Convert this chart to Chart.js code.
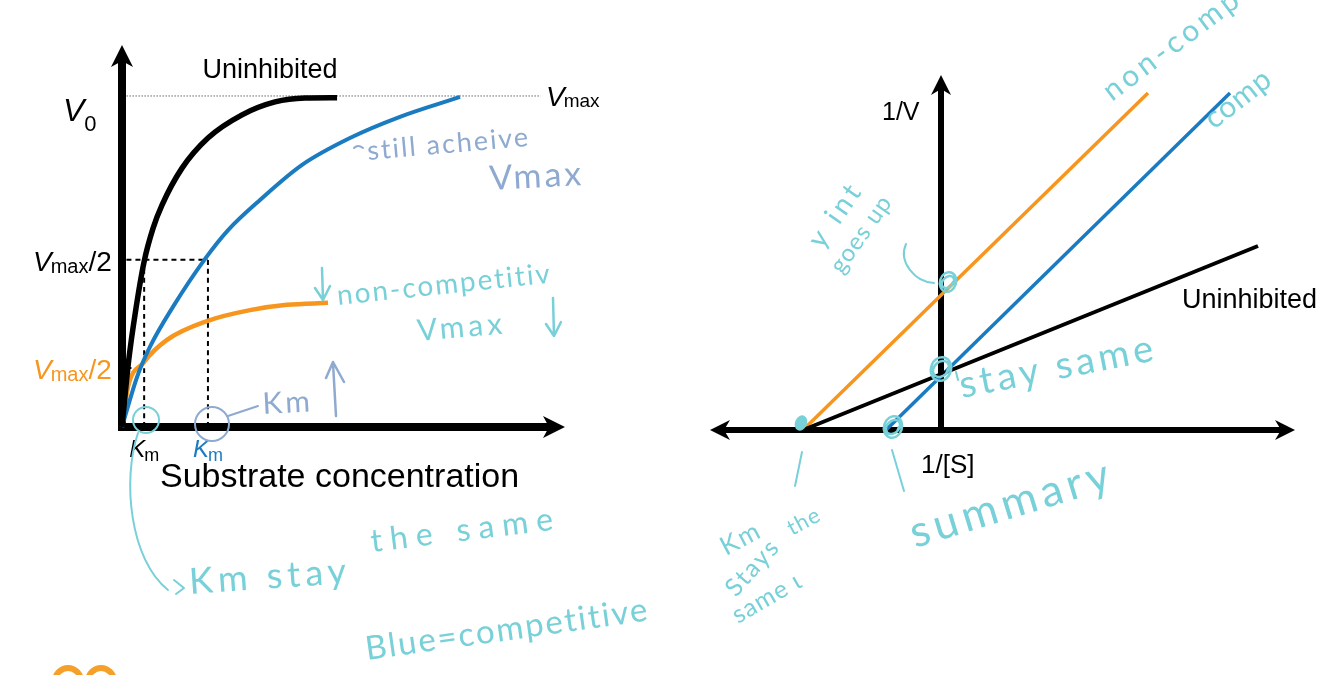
<!DOCTYPE html>
<html>
<head>
<meta charset="utf-8">
<title>Enzyme inhibition</title>
<script src="https://cdn.jsdelivr.net/npm/chart.js@4"></script>
<style>
  body { margin: 0; background: #fff; }
  .wrap { position: relative; width: 1334px; height: 675px; overflow: hidden; }
  .wrap canvas { position: absolute; left: 0; top: 0; }
</style>
</head>
<body>
<div class="wrap">
  <canvas id="mmChart" width="1334" height="675"></canvas>
  <canvas id="lbChart" width="1334" height="675"></canvas>
</div>
<script>
// ---- Michaelis-Menten plot (left) ----
const substrateBlack = [0, 0.1, 0.3, 0.6, 1.0, 1.4, 1.81, 2.71, 3.88, 5.42, 6.91, 8.26, 9.71];
const v0Black        = [0, 0.07, 0.2, 0.345, 0.5, 0.6, 0.671, 0.782, 0.873, 0.943, 0.982, 0.994, 0.995];
const substrateComp  = [0, 0.68, 1.26, 2.3, 3.75, 4.79, 6.23, 8.13, 10.29, 12.55, 15.26];
const v0Comp         = [0, 0.151, 0.242, 0.363, 0.508, 0.595, 0.686, 0.792, 0.873, 0.937, 0.997];
const substrateNonc  = [0, 0.27, 0.95, 2.03, 3.84, 5.78, 7.45, 9.3];
const v0Nonc         = [0, 0.121, 0.193, 0.263, 0.32, 0.353, 0.369, 0.375];
const vmax = 1;
const vmaxHalf = 0.505;
const vmaxHalfNonc = 0.178;
const kmBlack = 1.0;
const kmComp = 3.88;

// ---- Lineweaver-Burk plot (right) ----
const invSBlack = [-1.38, 3.17];
const invVBlack = [0, 1.84];
const invSNonc  = [-1.38, 2.07];
const invVNonc  = [0, 3.37];
const invSComp  = [-0.55, 2.89];
const invVComp  = [0, 3.37];

const BLUE = '#1b7bc0';
const ORANGE = '#f7961e';
const CYAN = '#78d0d8';
const GREYBLUE = '#8faad0';
const FONT = '"Liberation Sans", Arial, Helvetica, sans-serif';
const HAND = 'Lato, "Open Sans", sans-serif';

function pts(xs, ys) {
  return xs.map((x, i) => ({ x: x, y: ys[i] }));
}

// thick arrow with a swept head, tip at (x2, y2)
function arrow(ctx, x1, y1, x2, y2, w, len, half) {
  const a = Math.atan2(y2 - y1, x2 - x1);
  ctx.save();
  ctx.translate(x2, y2);
  ctx.rotate(a);
  const d = Math.hypot(x2 - x1, y2 - y1);
  ctx.fillStyle = '#000';
  ctx.fillRect(-d, -w / 2, d - len + 6, w);
  ctx.beginPath();
  ctx.moveTo(0, 0);
  ctx.lineTo(-len, -half);
  ctx.lineTo(-len + 6, 0);
  ctx.lineTo(-len, half);
  ctx.closePath();
  ctx.fill();
  ctx.restore();
}

function hand(ctx, text, x, y, deg, size, color, spacing) {
  ctx.save();
  ctx.translate(x, y);
  ctx.rotate(deg * Math.PI / 180);
  ctx.font = '400 ' + size + 'px ' + HAND;
  ctx.letterSpacing = (spacing || 2) + 'px';
  ctx.fillStyle = color;
  ctx.textBaseline = 'alphabetic';
  ctx.fillText(text, 0, 0);
  ctx.restore();
}

function stroke(ctx, color, w, path) {
  ctx.save();
  ctx.strokeStyle = color;
  ctx.lineWidth = w;
  ctx.lineCap = 'round';
  ctx.lineJoin = 'round';
  ctx.beginPath();
  path(ctx);
  ctx.stroke();
  ctx.restore();
}

function downArrow(ctx, color, x, y1, y2) {
  stroke(ctx, color, 2.5, c => {
    c.moveTo(x, y1); c.lineTo(x + 1, y2);
    c.moveTo(x - 7, y2 - 12); c.lineTo(x + 1, y2); c.lineTo(x + 8, y2 - 14);
  });
}

function label(ctx, parts, x, y, color) {
  // parts: [text, size, italic, dy, kern]
  ctx.save();
  ctx.fillStyle = color;
  ctx.textBaseline = 'alphabetic';
  let cx = x;
  parts.forEach(p => {
    ctx.font = (p[2] ? 'italic ' : '') + p[1] + 'px ' + FONT;
    ctx.fillText(p[0], cx, y + (p[3] || 0));
    cx += ctx.measureText(p[0]).width + (p[4] || 0);
  });
  ctx.restore();
}

const mmDecor = {
  id: 'mmDecor',
  beforeDatasetsDraw(chart) {
    const { ctx, scales: { x, y } } = chart;
    const ox = x.getPixelForValue(0), oy = y.getPixelForValue(0);
    arrow(ctx, ox, oy + 4, ox, chart.chartArea.top, 8, 22, 11);
    arrow(ctx, ox - 4, oy, chart.chartArea.right, oy, 8, 22, 11);
  },
  afterDatasetsDraw(chart) {
    const { ctx, scales: { x, y } } = chart;
    ctx.save();
    ctx.font = '27px ' + FONT;
    ctx.fillStyle = '#000';
    ctx.textAlign = 'center';
    ctx.fillText('Uninhibited', 270, 78);
    ctx.restore();

    label(ctx, [['V', 32, true], ['0', 22, false, 10]], 63, 121, '#000');
    label(ctx, [['V', 28, true, 0, -1], ['max', 19, false, 1]], 546, 106, '#000');
    const yh = y.getPixelForValue(vmaxHalf);
    label(ctx, [['V', 28, true, 0, -1], ['max', 20, false, 2], ['/2', 28, false]], 33, yh + 11, '#000');
    const yo = y.getPixelForValue(vmaxHalfNonc);
    label(ctx, [['V', 28, true, 0, -1], ['max', 20, false, 2], ['/2', 28, false]], 33, yo + 11, ORANGE);
    const kb = x.getPixelForValue(kmBlack), kc = x.getPixelForValue(kmComp);
    label(ctx, [['K', 24, true, 0, -1], ['m', 18, false, 4]], kb - 15, 457, '#000');
    label(ctx, [['K', 24, true, 0, -1], ['m', 18, false, 4]], kc - 15, 457, BLUE);

    ctx.save();
    ctx.font = '34px ' + FONT;
    ctx.fillStyle = '#000';
    ctx.fillText('Substrate concentration', 160, 487);
    ctx.restore();

    // handwritten notes
    stroke(ctx, GREYBLUE, 2, c => { c.moveTo(354, 148); c.quadraticCurveTo(358, 144, 363, 148); });
    hand(ctx, 'still acheive', 368, 160, -5, 27, GREYBLUE, 2);
    hand(ctx, 'Vmax', 490, 190, -3, 34, GREYBLUE, 3);
    downArrow(ctx, CYAN, 322, 268, 300);
    hand(ctx, 'non-competitiv', 338, 305, -6, 28, CYAN, 2);
    hand(ctx, 'Vmax', 418, 341, -5, 30, CYAN, 4);
    downArrow(ctx, CYAN, 553, 298, 336);
    hand(ctx, 'Km', 263, 414, -3, 30, GREYBLUE, 3);
    stroke(ctx, GREYBLUE, 2.5, c => {
      c.moveTo(336, 416); c.lineTo(333, 363);
      c.moveTo(326, 378); c.lineTo(333, 362); c.lineTo(344, 382);
    });
    stroke(ctx, GREYBLUE, 2, c => {
      c.arc(212, 424, 17, 0, Math.PI * 2);
      c.moveTo(228, 416); c.lineTo(258, 406);
    });
    stroke(ctx, CYAN, 2, c => {
      c.arc(146, 420, 13, 0, Math.PI * 2);
      c.moveTo(138, 433); c.bezierCurveTo(122, 480, 130, 560, 168, 590);
      c.moveTo(174, 580); c.lineTo(184, 588); c.lineTo(176, 594);
    });
    hand(ctx, 'Km stay', 190, 594, -4, 36, CYAN, 5);
    hand(ctx, 'the same', 372, 552, -7, 32, CYAN, 8);
    hand(ctx, 'Blue=competitive', 367, 660, -8, 33, CYAN, 0);

    // orange logo peeking in at the bottom
    ctx.save();
    ctx.strokeStyle = '#f5a02a';
    ctx.lineWidth = 6;
    ctx.beginPath(); ctx.arc(68, 681, 13, 0, Math.PI * 2); ctx.stroke();
    ctx.beginPath(); ctx.arc(101, 681, 13, 0, Math.PI * 2); ctx.stroke();
    ctx.restore();
  }
};

const lbDecor = {
  id: 'lbDecor',
  beforeDatasetsDraw(chart) {
    const { ctx, chartArea, scales: { x, y } } = chart;
    const ox = x.getPixelForValue(0), oy = y.getPixelForValue(0);
    arrow(ctx, ox, oy + 3, ox, chartArea.top, 6, 20, 10);
    arrow(ctx, ox, oy, chartArea.right, oy, 6, 20, 10);
    arrow(ctx, ox, oy, chartArea.left, oy, 6, 20, 10);
  },
  afterDatasetsDraw(chart) {
    const { ctx } = chart;
    ctx.save();
    ctx.fillStyle = '#000';
    ctx.font = '25px ' + FONT;
    ctx.fillText('1/V', 882, 120);
    ctx.font = '26px ' + FONT;
    ctx.fillText('1/[S]', 921, 473);
    ctx.font = '27px ' + FONT;
    ctx.fillText('Uninhibited', 1182, 308);
    ctx.restore();

    // handwritten notes
    hand(ctx, 'non-comp', 1112, 102, -37, 30, CYAN, 4);
    hand(ctx, 'comp', 1214, 130, -38, 30, CYAN, 1);
    hand(ctx, 'y int', 822, 250, -55, 28, CYAN, 4);
    hand(ctx, 'goes up', 842, 275, -55, 24, CYAN, 1);
    stroke(ctx, CYAN, 2, c => {
      c.moveTo(906, 244); c.bezierCurveTo(898, 262, 915, 282, 934, 283);
      c.moveTo(802, 452); c.lineTo(795, 486);
      c.moveTo(892, 450); c.lineTo(904, 491);
    });
    [[948, 282, 8], [941, 369, 10], [893, 427, 9]].forEach(p => {
      stroke(ctx, CYAN, 2.5, c => {
        c.ellipse(p[0], p[1], p[2], p[2] + 2, 0.3, 0, Math.PI * 2);
        c.moveTo(p[0] + p[2] - 3, p[1]);
        c.ellipse(p[0], p[1], p[2] - 3, p[2] - 1, 0.8, 0, Math.PI * 2);
      });
    });
    ctx.save();
    ctx.fillStyle = CYAN;
    ctx.beginPath(); ctx.ellipse(801, 423, 6, 8, 0.4, 0, Math.PI * 2); ctx.fill();
    ctx.restore();
    stroke(ctx, CYAN, 2, c => { c.moveTo(956, 372); c.lineTo(958, 380); });
    hand(ctx, 'stay same', 962, 398, -11, 38, CYAN, 4);
    hand(ctx, 'Km', 726, 556, -28, 26, CYAN, 2);
    hand(ctx, 'the', 792, 536, -28, 22, CYAN, 1);
    hand(ctx, 'Stays', 736, 598, -48, 25, CYAN, 0);
    hand(ctx, 'same ι', 738, 624, -30, 25, CYAN, 1);
    hand(ctx, 'summary', 915, 548, -17, 44, CYAN, 5);
  }
};

const noTip = { legend: { display: false }, tooltip: { enabled: false } };

function line(data, color, width, order, dash) {
  return {
    data: data, borderColor: color, borderWidth: width, borderDash: dash || [],
    pointRadius: 0, fill: false, clip: false, order: order,
    cubicInterpolationMode: 'monotone', borderCapStyle: 'butt'
  };
}

new Chart(document.getElementById('mmChart'), {
  type: 'line',
  data: {
    datasets: [
      line(pts(substrateBlack, v0Black), '#000', 5.5, 1),
      line(pts(substrateComp, v0Comp), BLUE, 4, 2),
      line(pts(substrateNonc, v0Nonc), ORANGE, 4.5, 3),
      line([{ x: 0.2, y: vmax }, { x: 18.9, y: vmax }], '#666', 1, 9, [1.5, 1.5]),
      line([{ x: 0.2, y: vmaxHalf }, { x: kmComp, y: vmaxHalf }], '#000', 2, 8, [5, 4]),
      line([{ x: kmBlack, y: 0 }, { x: kmBlack, y: vmaxHalf }], '#000', 2, 8, [5, 4]),
      line([{ x: kmComp, y: 0 }, { x: kmComp, y: vmaxHalf }], '#000', 2, 8, [5, 4]),
      line([{ x: 0.2, y: vmaxHalfNonc }, { x: kmBlack, y: vmaxHalfNonc }], '#000', 2, 8, [5, 4])
    ]
  },
  options: {
    responsive: false,
    animation: false,
    layout: { padding: { left: 122, right: 1334 - 565, top: 45, bottom: 675 - 427 } },
    scales: {
      x: { type: 'linear', min: 0, max: 20, display: false },
      y: { type: 'linear', min: 0, max: 1.154, display: false }
    },
    plugins: noTip
  },
  plugins: [mmDecor]
});

new Chart(document.getElementById('lbChart'), {
  type: 'line',
  data: {
    datasets: [
      line(pts(invSNonc, invVNonc), ORANGE, 3.5, 3),
      line(pts(invSComp, invVComp), BLUE, 3.5, 2),
      line(pts(invSBlack, invVBlack), '#000', 4, 1)
    ]
  },
  options: {
    responsive: false,
    animation: false,
    layout: { padding: { left: 710, right: 1334 - 1295, top: 75, bottom: 675 - 430 } },
    scales: {
      x: { type: 'linear', min: -2.31, max: 3.54, display: false },
      y: { type: 'linear', min: 0, max: 3.55, display: false }
    },
    plugins: noTip
  },
  plugins: [lbDecor]
});
</script>
</body>
</html>
